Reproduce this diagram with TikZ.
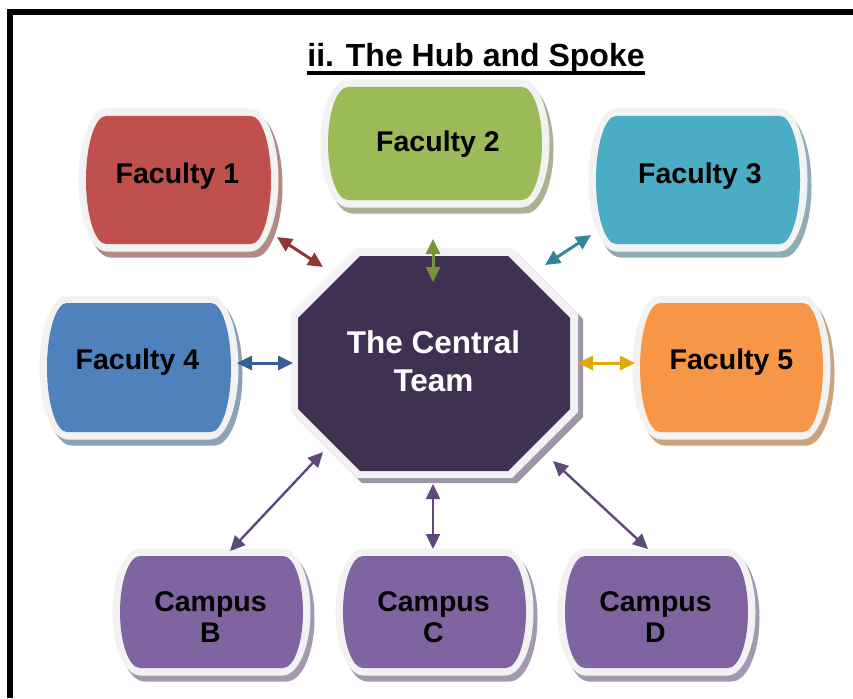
\documentclass[tikz,border=0pt]{standalone}
\usepackage{fontspec}
\setmainfont{Liberation Sans}
\usetikzlibrary{arrows.meta}

\definecolor{fOne}{HTML}{C0504D}\definecolor{sOne}{HTML}{B28A88}\definecolor{aOne}{HTML}{943634}
\definecolor{fTwo}{HTML}{9BBB59}\definecolor{sTwo}{HTML}{AAB291}\definecolor{aTwo}{HTML}{76923C}
\definecolor{fThree}{HTML}{4BACC6}\definecolor{sThree}{HTML}{8DACB4}\definecolor{aThree}{HTML}{31859C}
\definecolor{fFour}{HTML}{4F81BD}\definecolor{sFour}{HTML}{8EA0B6}\definecolor{aFour}{HTML}{376092}
\definecolor{fFive}{HTML}{F79646}\definecolor{sFive}{HTML}{CDA27D}\definecolor{aFive}{HTML}{E3A900}
\definecolor{fCamp}{HTML}{8064A2}\definecolor{sCamp}{HTML}{A398B0}\definecolor{aCamp}{HTML}{5F497A}
\definecolor{fHub}{HTML}{403152}\definecolor{sHub}{HTML}{9E96A8}
\definecolor{rim}{HTML}{F2F2F2}

% cx, cy, half width, half height, horizontal radius of side arcs
\newcommand\termshape[5]{({#1-#3+#5},{#2-#4}) -- ({#1+#3-#5},{#2-#4})
  arc[start angle=90,end angle=-90,x radius=#5pt,y radius=#4pt]
  -- ({#1-#3+#5},{#2+#4})
  arc[start angle=270,end angle=90,x radius=#5pt,y radius=#4pt] -- cycle}
% cx, cy, hw, hh, fill, shadow
\newcommand\tbox[6]{%
  \pgfmathsetmacro\bxo{#3+7.5}\pgfmathsetmacro\byo{#4+7.5}%
  \fill[#6] \termshape{#1+4}{#2+6}{\bxo}{\byo}{28};
  \fill[rim] \termshape{#1}{#2}{\bxo}{\byo}{28};
  \fill[#5] \termshape{#1}{#2}{#3}{#4}{20};
}
% x0, y0, x1, y1, chamfer
\newcommand\octa[5]{({#1+#5},#2) -- ({#3-#5},#2) -- (#3,{#2+#5}) -- (#3,{#4-#5})
  -- ({#3-#5},#4) -- ({#1+#5},#4) -- (#1,{#4-#5}) -- (#1,{#2+#5}) -- cycle}

\tikzset{
  lbl/.style={inner sep=0pt, font=\fontsize{28.5}{31}\selectfont\bfseries, text=black, align=center},
  hubtext/.style={inner sep=0pt, font=\fontsize{31.5}{38}\selectfont\bfseries, text=white, align=center},
  titletext/.style={inner sep=0pt, font=\fontsize{32}{36}\selectfont\bfseries, text=black},
  biarrow/.style={{Triangle[length=15pt,width=14pt]}-{Triangle[length=15pt,width=14pt]}, line width=3pt},
}

\begin{document}
\begin{tikzpicture}[x=1pt,y=-1pt]
\useasboundingbox (0,0) rectangle (853,698);
\fill[white] (0,0) rectangle (853,698);

% frame
\draw[line width=6pt] (10,698) -- (10,12) -- (853,12);

% title
\node[titletext, anchor=base] (title) at (476,67) {ii. The Hub and Spoke};
\draw[line width=3.5pt] ([yshift=-6pt]title.base west) -- ([yshift=-6pt]title.base east);

% boxes
\tbox{178.5}{180}{92.5}{64}{fOne}{sOne}
\tbox{435}{143.5}{107}{56.5}{fTwo}{sTwo}
\tbox{698}{180}{102}{64}{fThree}{sThree}
\tbox{139}{367.5}{92}{64.5}{fFour}{sFour}
\tbox{731.5}{367.5}{91.5}{64.5}{fFive}{sFive}
\tbox{211.5}{612}{91.5}{56}{fCamp}{sCamp}
\tbox{434.5}{612}{91.5}{56}{fCamp}{sCamp}
\tbox{656.5}{612}{91.5}{56}{fCamp}{sCamp}

% hub octagon
\fill[sHub] \octa{296}{253}{583}{483}{66};
\fill[rim] \octa{291}{248}{578}{478}{66};
\fill[fHub] \octa{298}{256}{570}{471}{62};

% labels
\node[lbl, anchor=base] (f1) at (177.5,183) {Faculty 1};
\node[lbl, anchor=base] (f2) at (438,151) {Faculty 2};
\node[lbl, anchor=base] (f3) at (700,183) {Faculty 3};
\node[lbl, anchor=base] (f4) at (137.5,369) {Faculty 4};
\node[lbl, anchor=base] (f5) at (731.5,369) {Faculty 5};
\node[hubtext] (hub) at (433.5,361) {The Central\\Team};
\begin{scope}
\clip (0,0) rectangle (853,642.5);
\node[lbl] (cb) at (210.5,617) {Campus\\B};
\node[lbl] (cc) at (433.5,617) {Campus\\C};
\node[lbl] (cd) at (655.5,617) {Campus\\D};
\end{scope}

% connector ends
\coordinate (e1a) at (277,237); \coordinate (e1b) at (323,267);
\coordinate (e2a) at (433,239); \coordinate (e2b) at (433,282);
\coordinate (e3a) at (591,235); \coordinate (e3b) at (545,265);
\coordinate (e4a) at (237,363); \coordinate (e4b) at (293,363);
\coordinate (e5a) at (635,363); \coordinate (e5b) at (578,363);
\coordinate (ebA) at (230,551); \coordinate (ebB) at (323,452);
\coordinate (ecA) at (433,549); \coordinate (ecB) at (433,484);
\coordinate (edA) at (648,549); \coordinate (edB) at (553,461);

\draw[biarrow, aOne] (e1a) -- (e1b);
\draw[biarrow, aTwo] (e2a) -- (e2b);
\draw[biarrow, aThree] (e3a) -- (e3b);
\draw[biarrow, aFour] (e4a) -- (e4b);
\draw[biarrow, aFive] (e5a) -- (e5b);
\draw[biarrow, aCamp, line width=2.4pt] (ebA) -- (ebB);
\draw[biarrow, aCamp, line width=2.4pt] (ecA) -- (ecB);
\draw[biarrow, aCamp, line width=2.4pt] (edA) -- (edB);
\end{tikzpicture}
\end{document}
